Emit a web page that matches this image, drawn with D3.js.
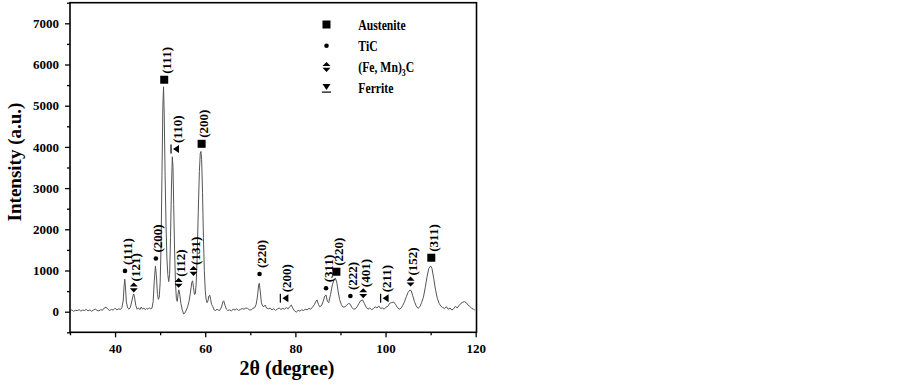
<!DOCTYPE html>
<html>
<head>
<meta charset="utf-8">
<script src="https://cdn.jsdelivr.net/npm/d3@7"></script>
<style>
  body { margin: 0; background: #fff; }
  svg text { font-family: "Liberation Serif", "Times New Roman", serif; font-weight: bold; fill: #000; }
</style>
</head>
<body>
<div id="chart"></div>
<script>
// XRD pattern: 2theta (degree) and intensity (a.u.)
const theta = [
  30.0, 30.4, 30.8, 31.2, 31.6, 32.0, 32.4, 32.8, 33.2, 33.6, 34.0, 34.4, 34.8, 35.2, 35.6, 36.0,
  36.4, 36.8, 37.2, 37.6, 38.0, 38.4, 38.8, 39.2, 39.6, 40.0, 40.4, 40.8, 41.2, 41.5, 41.8, 42.0,
  42.15, 42.3, 42.5, 42.8, 43.1, 43.4, 43.7, 44.0, 44.15, 44.35, 44.6, 44.9, 45.2, 45.5, 45.8, 46.1,
  46.4, 46.7, 47.0, 47.3, 47.6, 47.9, 48.2, 48.45, 48.7, 48.95, 49.15, 49.4, 49.6, 49.8, 50.0, 50.2,
  50.4, 50.6, 50.75, 50.9, 51.1, 51.3, 51.5, 51.7, 51.9, 52.1, 52.3, 52.5, 52.7, 52.85, 53.0, 53.2,
  53.4, 53.6, 53.8, 54.0, 54.15, 54.35, 54.6, 54.9, 55.2, 55.5, 55.8, 56.1, 56.4, 56.7, 57.0, 57.2,
  57.4, 57.6, 57.8, 58.0, 58.2, 58.45, 58.7, 58.9, 59.05, 59.2, 59.4, 59.6, 59.8, 60.0, 60.2, 60.4,
  60.6, 60.8, 61.0, 61.2, 61.4, 61.7, 62.0, 62.3, 62.6, 62.9, 63.2, 63.6, 63.9, 64.1, 64.4, 64.7,
  65.0, 65.4, 65.8, 66.2, 66.6, 67.0, 67.4, 67.8, 68.2, 68.6, 69.0, 69.4, 69.8, 70.2, 70.6, 71.0,
  71.3, 71.6, 71.85, 72.0, 72.2, 72.45, 72.7, 73.0, 73.3, 73.6, 74.0, 74.4, 74.8, 75.2, 75.6, 76.0,
  76.4, 76.8, 77.2, 77.6, 78.0, 78.4, 78.8, 79.1, 79.4, 79.8, 80.2, 80.6, 81.0, 81.4, 81.8, 82.2,
  82.6, 83.0, 83.4, 83.8, 84.2, 84.5, 84.8, 85.1, 85.4, 85.8, 86.2, 86.5, 86.8, 87.1, 87.4, 87.8,
  88.2, 88.6, 88.9, 89.2, 89.5, 89.8, 90.2, 90.6, 91.0, 91.4, 91.8, 92.1, 92.5, 92.9, 93.3, 93.7,
  94.1, 94.5, 94.9, 95.3, 95.7, 96.1, 96.5, 96.9, 97.3, 97.7, 98.1, 98.5, 98.9, 99.3, 99.7, 100.1,
  100.5, 100.9, 101.3, 101.8, 102.2, 102.6, 103.0, 103.4, 103.8, 104.2, 104.6, 105.0, 105.4, 105.7, 106.0, 106.4,
  106.8, 107.2, 107.6, 108.0, 108.4, 108.8, 109.2, 109.6, 110.0, 110.3, 110.7, 111.1, 111.5, 111.9, 112.3, 112.7,
  113.1, 113.5, 113.9, 114.3, 114.7, 115.1, 115.5, 115.9, 116.3, 116.7, 117.1, 117.5, 117.9, 118.3, 118.7, 119.1,
  119.5, 119.8
];
const intensity = [
  20, 45, 10, 35, 25, 50, 15, 40, 30, 55, 20, 45, 10, 40, 65, 30,
  20, 50, 35, 90, 110, 60, 30, 55, 40, 85, 45, 70, 55, 95, 260, 620,
  790, 600, 240, 90, 60, 110, 250, 400, 430, 330, 150, 60, 95, 50, 110, 65,
  90, 50, 80, 60, 95, 70, 90, 250, 750, 1110, 900, 420, 300, 350, 700, 1600,
  3300, 5000, 5460, 4800, 3300, 2100, 1300, 900, 730, 900, 1800, 3000, 3760, 3500, 2600, 1500,
  700, 320, 250, 450, 530, 420, 200, 50, -55, -30, 40, 120, 250, 450, 700, 750,
  580, 420, 430, 700, 1300, 2400, 3400, 3850, 3890, 3700, 2900, 1800, 1000, 520, 300, 220,
  260, 380, 400, 300, 180, 120, 40, 30, 60, 40, 30, 110, 240, 265, 150, 60,
  30, 45, 20, 60, 40, 70, 30, 55, 75, 60, 90, 80, 45, 40, 85, 100,
  180, 380, 650, 690, 500, 230, 140, 120, 160, 90, 70, 90, 40, 75, 30, 65,
  90, 55, 80, 60, 100, 70, 130, 160, 90, 20, -10, 30, 15, 45, 30, 60,
  45, 80, 60, 110, 170, 240, 285, 180, 120, 150, 260, 380, 405, 250, 220, 420,
  650, 780, 810, 700, 480, 300, 170, 110, 120, 160, 200, 190, 110, 60, 70, 120,
  200, 270, 285, 200, 110, 60, 90, 50, 70, 120, 90, 140, 80, 90, 60, 110,
  130, 200, 220, 235, 180, 110, 60, 80, 150, 240, 360, 470, 525, 510, 400, 250,
  140, 80, 120, 220, 350, 580, 850, 1050, 1110, 1050, 800, 520, 320, 200, 130, 100,
  80, 120, 60, 90, 40, 70, 130, 90, 150, 200, 230, 245, 220, 160, 130, 80,
  60, 40
];

// peak markers
const peakPhase = ["TiC", "Fe3C", "TiC", "Austenite", "Ferrite", "Fe3C", "Fe3C", "Austenite", "TiC",
  "Ferrite", "TiC", "Austenite", "TiC", "Fe3C", "Ferrite", "Fe3C", "Austenite"];
const peakTheta = [42.2, 44.15, 49.05, 50.9, 53.3, 54.1, 57.4, 59.2, 72.05,
  77.55, 86.8, 89.1, 92.2, 95.05, 99.8, 105.55, 110.15];
const peakIntensity = [990, 590, 1290, 5630, 3950, 700, 990, 4075, 915,
  325, 570, 970, 380, 450, 325, 730, 1310];
const peakLabel = ["(111)", "(121)", "(200)", "(111)", "(110)", "(112)", "(131)", "(200)", "(220)",
  "(200)", "(311)", "(220)", "(222)", "(401)", "(211)", "(152)", "(311)"];

const legendPhase = ["Austenite", "TiC", "Fe3C", "Ferrite"];

const xMajor = [40, 60, 80, 100, 120];
const xMinor = [30, 50, 70, 90, 110];
const yMajor = [0, 1000, 2000, 3000, 4000, 5000, 6000, 7000];
const yMinor = [-500, 500, 1500, 2500, 3500, 4500, 5500, 6500, 7500];

const W = 902, H = 387;
const plot = { left: 70, right: 476.5, top: 2.7, bottom: 332.3 };

const svg = d3.select('#chart').append('svg')
  .attr('width', W)
  .attr('height', H);

const x = d3.scaleLinear().domain([30, 120]).range([plot.left, 475.7]);
const y = d3.scaleLinear().domain([-500, 7500]).range([plot.bottom, plot.top]);

// axes
const tickFont = g => g.selectAll('text')
  .style('font-size', '13px')
  .style('font-family', '"Liberation Serif", serif')
  .style('font-weight', 'bold');

svg.append('g')
  .attr('transform', `translate(0,${plot.bottom})`)
  .call(d3.axisBottom(x).tickValues(xMajor).tickSize(5).tickPadding(6).tickFormat(d3.format('d')))
  .call(g => g.select('.domain').remove())
  .call(tickFont);

svg.append('g')
  .attr('transform', `translate(0,${plot.bottom})`)
  .call(d3.axisBottom(x).tickValues(xMinor).tickSize(3).tickFormat(''))
  .call(g => g.select('.domain').remove());

svg.append('g')
  .attr('transform', `translate(${plot.left},0)`)
  .call(d3.axisLeft(y).tickValues(yMajor).tickSize(5).tickPadding(6).tickFormat(d3.format('d')))
  .call(g => g.select('.domain').remove())
  .call(tickFont);

svg.append('g')
  .attr('transform', `translate(${plot.left},0)`)
  .call(d3.axisLeft(y).tickValues(yMinor).tickSize(3).tickFormat(''))
  .call(g => g.select('.domain').remove());

svg.selectAll('.tick line').attr('stroke', '#000').attr('stroke-width', 1.3);

// pattern
const pts = theta.map((t, i) => [t, intensity[i]]);
const line = d3.line().x(d => x(d[0])).y(d => y(d[1]));

svg.append('path')
  .datum(pts)
  .attr('fill', 'none')
  .attr('stroke', '#555')
  .attr('stroke-width', 1)
  .attr('d', line);

// frame
svg.append('rect')
  .attr('x', plot.left)
  .attr('y', plot.top)
  .attr('width', plot.right - plot.left)
  .attr('height', plot.bottom - plot.top)
  .attr('fill', 'none')
  .attr('stroke', '#000')
  .attr('stroke-width', 1.6);

// symbols
function drawSymbol(g, phase, rotateFerrite) {
  if (phase === "Austenite") {
    g.append('rect').attr('x', -4).attr('y', -4).attr('width', 8).attr('height', 8).attr('fill', '#000');
  } else if (phase === "TiC") {
    g.append('circle').attr('r', 2.3).attr('fill', '#000');
  } else if (phase === "Fe3C") {
    g.append('path').attr('d', 'M-4,-0.8L0,-5L4,-0.8Z M-4,0.8L0,5L4,0.8Z').attr('fill', '#000');
  } else {
    const s = g.append('g').attr('transform', rotateFerrite ? 'rotate(90)' : null);
    s.append('path').attr('d', 'M-4,-4L4,-4L0,2Z').attr('fill', '#000');
    s.append('line').attr('x1', -4.5).attr('x2', 4.5).attr('y1', 4).attr('y2', 4)
      .attr('stroke', '#000').attr('stroke-width', 1.2);
  }
}

const peaks = svg.append('g');
peakPhase.forEach((p, i) => {
  const px = x(peakTheta[i]), py = y(peakIntensity[i]);
  const g = peaks.append('g').attr('transform', `translate(${px},${py})`);
  drawSymbol(g, p, true);
  peaks.append('text')
    .attr('transform', `translate(${px + 2},${py - 6}) rotate(-90)`)
    .attr('dy', '0.35em')
    .style('font-size', '13px')
    .text(peakLabel[i]);
});

// legend
const legend = svg.append('g');
legendPhase.forEach((p, i) => {
  const ly = 24.5 + i * 21.2;
  const g = legend.append('g').attr('transform', `translate(326.5,${ly})`);
  drawSymbol(g, p, false);
  const t = legend.append('text')
    .attr('transform', `translate(358.3,${ly + 5.3}) scale(0.78,1)`)
    .style('font-size', '15px');
  if (p === "Fe3C") {
    t.append('tspan').text('(Fe, Mn)');
    t.append('tspan').attr('dy', 4).style('font-size', '10px').text('3');
    t.append('tspan').attr('dy', -4).text('C');
  } else {
    t.text(p);
  }
});

// axis titles
svg.append('text')
  .attr('x', 287)
  .attr('y', 375)
  .attr('text-anchor', 'middle')
  .style('font-size', '20px')
  .text('2θ (degree)');

svg.append('text')
  .attr('transform', 'translate(21,162) rotate(-90)')
  .attr('text-anchor', 'middle')
  .style('font-size', '19px')
  .text('Intensity (a.u.)');
</script>
</body>
</html>
